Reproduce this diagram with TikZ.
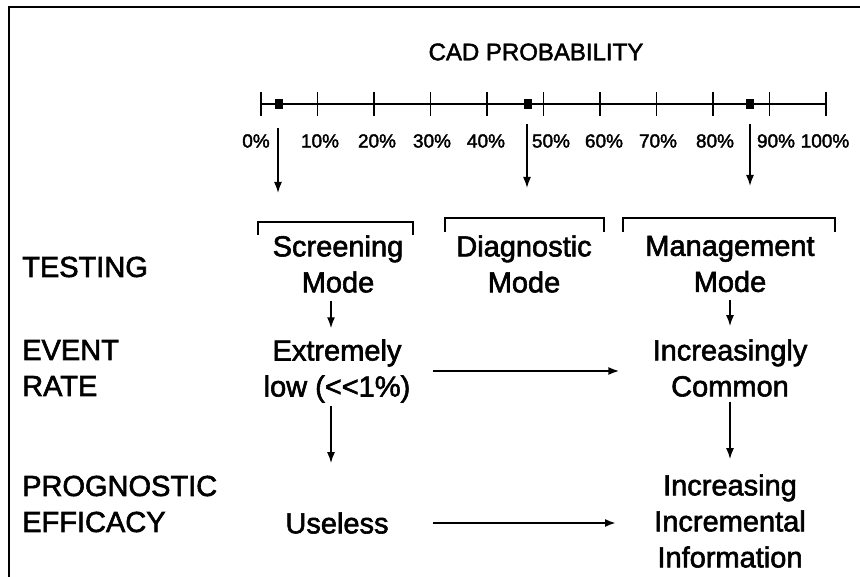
\documentclass[tikz,border=0pt]{standalone}
\usepackage{fontspec}
\setmainfont{Liberation Sans}[FakeBold=2]
\usetikzlibrary{arrows.meta}
\begin{document}
\begin{tikzpicture}[x=1pt,y=-1pt,
  big/.style={font=\fontsize{29}{36}\selectfont, inner sep=0pt, align=center},
  lbl/.style={font=\fontsize{29}{36}\selectfont, inner sep=0pt, align=left, anchor=west},
  ticklbl/.style={font=\fontsize{19}{22}\selectfont, inner sep=0pt},
  arr/.style={-{Latex[length=11pt,width=8pt]}, line width=1.6pt},
  harr/.style={-{Latex[length=11pt,width=8pt]}, line width=2pt},
  bracket/.style={line width=1.3pt},
  axisline/.style={line width=1.1pt},
  marker/.style={fill=black, draw=none, minimum width=8pt, minimum height=10pt, inner sep=0pt}
]
\useasboundingbox (0,0) rectangle (860,577);
% frame
\draw[line width=1.8pt] (860,7) -- (9,7) -- (9,577);
% title
\node[font=\fontsize{24}{28}\selectfont, inner sep=0pt] (title) at (536,52) {CAD PROBABILITY};
% axis
\draw[axisline] (261,104) -- (826,104);
\foreach \i in {0,...,10} {
  \draw[axisline] ({261+56.5*\i},92) -- ({261+56.5*\i},116);
}
\node[marker] (m1) at (279,104) {};
\node[marker] (m2) at (528,104) {};
\node[marker] (m3) at (750,104) {};
% tick labels
\node[ticklbl] (t0) at (256,141) {0\%};
\node[ticklbl] (t10) at (320,141) {10\%};
\node[ticklbl] (t20) at (377,141) {20\%};
\node[ticklbl] (t30) at (432,141) {30\%};
\node[ticklbl] (t40) at (486,141) {40\%};
\node[ticklbl] (t50) at (551,141) {50\%};
\node[ticklbl] (t60) at (604,141) {60\%};
\node[ticklbl] (t70) at (658,141) {70\%};
\node[ticklbl] (t80) at (715,141) {80\%};
\node[ticklbl] (t90) at (776,141) {90\%};
\node[ticklbl] (t100) at (825,141) {100\%};
% arrows from axis
\coordinate (a1s) at (278,128); \coordinate (a1e) at (278,193);
\coordinate (a2s) at (527,124); \coordinate (a2e) at (527,188);
\coordinate (a3s) at (750,124); \coordinate (a3e) at (750,186);
\draw[arr] (a1s) -- (a1e);
\draw[arr] (a2s) -- (a2e);
\draw[arr] (a3s) -- (a3e);
% brackets
\draw[bracket] (258,235) -- (258,222) -- (413,222) -- (413,235);
\draw[bracket] (445,232) -- (445,218) -- (604,218) -- (604,232);
\draw[bracket] (623,232) -- (623,218) -- (835,218) -- (835,232);
% row labels
\node[lbl] (testing) at (22,267) {TESTING};
\node[lbl] (event) at (22,368) {EVENT\\RATE};
\node[lbl] (prog) at (22,504) {PROGNOSTIC\\EFFICACY};
% mode nodes
\node[big] (scr) at (338,264) {Screening\\Mode};
\node[big] (dia) at (524,264) {Diagnostic\\Mode};
\node[big] (man) at (730,264) {Management\\Mode};
% event rate
\node[big] (ext) at (337,371) {Extremely\\low (<{}<1\%)};
\node[big] (inc) at (730,368) {Increasingly\\Common};
% prognostic
\node[big] (use) at (337,523) {Useless};
\node[big] (info) at (730,521) {Increasing\\Incremental\\Information};
% connectors
\draw[arr, shorten <=8pt, shorten >=11pt] ([xshift=-7pt]scr.south) -- ([xshift=-6pt]ext.north);
\draw[arr, shorten <=3pt, shorten >=49pt] ([xshift=-6pt]ext.south) -- ([xshift=-6pt]use.north);
\draw[arr, shorten <=8pt, shorten >=13pt] (man.south) -- (inc.north);
\draw[arr, shorten <=5pt, shorten >=15pt] (inc.south) -- (info.north);
\draw[harr, shorten <=22pt, shorten >=33pt] (ext.east) -- (ext.east -| inc.west);
\draw[harr, shorten <=44pt, shorten >=38pt] (use.east) -- (use.east -| info.west);
\end{tikzpicture}
\end{document}
